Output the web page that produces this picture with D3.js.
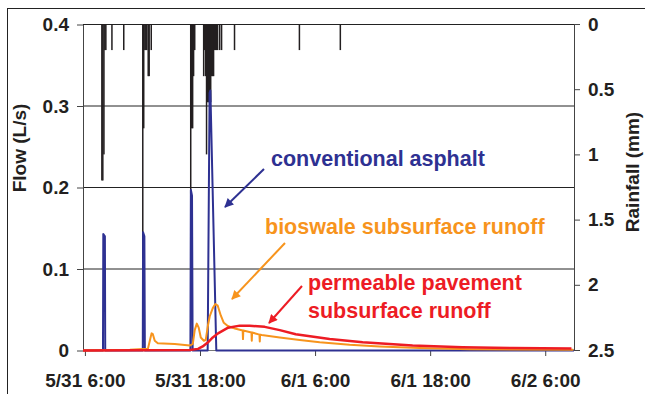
<!DOCTYPE html>
<html>
<head>
<meta charset="utf-8">
<script src="https://cdn.jsdelivr.net/npm/d3@7"></script>
<style>
  body { margin: 0; background: #fff; }
  svg { display: block; font-family: "Liberation Sans", Arial, sans-serif; font-weight: bold; }
</style>
</head>
<body>
<div id="chart"></div>
<script>
// rainfall (mm per interval), hanging from the top
const rainTimes = ['5/31 07:46', '5/31 07:52', '5/31 07:59', '5/31 08:05', '5/31 08:11', '5/31 08:49', '5/31 10:03',
  '5/31 12:02', '5/31 12:08', '5/31 12:15', '5/31 12:21', '5/31 12:27', '5/31 12:36', '5/31 12:42', '5/31 12:55',
  '5/31 17:02', '5/31 17:08', '5/31 17:14', '5/31 17:20', '5/31 17:27',
  '5/31 18:23', '5/31 18:29', '5/31 18:35', '5/31 18:41', '5/31 18:48', '5/31 18:54', '5/31 19:00', '5/31 19:07',
  '5/31 19:13', '5/31 19:19', '5/31 19:25', '5/31 19:32', '5/31 19:38', '5/31 19:44', '5/31 19:50', '5/31 20:03',
  '5/31 20:15', '5/31 21:36', '6/1 04:22', '6/1 08:38'];
const rainMm = [1.2, 1.2, 1.0, 0.2, 0.2, 0.2, 0.2,
  1.8, 0.8, 0.2, 0.2, 0.2, 0.4, 0.4, 0.2,
  1.3, 0.8, 0.8, 0.4, 0.2,
  0.4, 0.2, 0.4, 1.0, 0.6, 0.6, 0.6, 0.6,
  0.4, 0.4, 0.4, 0.2, 0.2, 0.2, 0.2, 0.2,
  0.2, 0.2, 0.2, 0.2];

// conventional asphalt (L/s)
const asphaltTimes = ['5/31 05:48', '5/31 07:53', '5/31 07:55', '5/31 08:05', '5/31 08:07',
  '5/31 12:02', '5/31 12:04', '5/31 12:12', '5/31 12:15',
  '5/31 17:00', '5/31 17:03', '5/31 17:10', '5/31 17:14',
  '5/31 18:48', '5/31 19:00', '5/31 19:05', '5/31 19:42', '6/2 09:00'];
const asphaltFlow = [0, 0, 0.143, 0.14, 0,
  0, 0.145, 0.14, 0,
  0, 0.197, 0.19, 0,
  0, 0.316, 0.319, 0, 0];

// bioswale subsurface runoff (L/s)
const bioswaleTimes = ['5/31 05:48', '5/31 10:41', '5/31 12:34', '5/31 12:46', '5/31 12:57', '5/31 13:05', '5/31 13:17',
  '5/31 13:36', '5/31 15:22', '5/31 16:56', '5/31 17:15', '5/31 17:27', '5/31 17:40', '5/31 17:52', '5/31 18:05',
  '5/31 18:24', '5/31 18:36', '5/31 18:49', '5/31 19:01', '5/31 19:20', '5/31 19:36', '5/31 19:51', '5/31 20:10',
  '5/31 20:29', '5/31 20:54', '5/31 21:38', '5/31 22:27', '5/31 22:29', '5/31 22:31', '5/31 23:22', '5/31 23:24',
  '5/31 23:26', '6/1 00:12', '6/1 00:14', '6/1 00:16', '6/1 00:26', '6/1 02:19', '6/1 04:24', '6/1 06:29',
  '6/1 09:36', '6/1 12:44', '6/1 16:54', '6/1 22:06', '6/2 08:56'];
const bioswaleFlow = [0, 0.001, 0.002, 0.012, 0.021, 0.02, 0.012,
  0.009, 0.008, 0.006, 0.008, 0.025, 0.033, 0.028, 0.016,
  0.012, 0.013, 0.03, 0.042, 0.052, 0.057, 0.055, 0.043,
  0.034, 0.03, 0.027, 0.0245, 0.014, 0.0245, 0.022, 0.012,
  0.022, 0.0195, 0.011, 0.0195, 0.019, 0.016, 0.013, 0.01,
  0.007, 0.005, 0.003, 0.0015, 0.001];

// permeable pavement subsurface runoff (L/s)
const pavementTimes = ['5/31 05:48', '5/31 16:56', '5/31 17:48', '5/31 18:17', '5/31 18:50', '5/31 19:20', '5/31 19:53',
  '5/31 20:56', '5/31 22:09', '5/31 23:11', '6/1 00:45', '6/1 02:19', '6/1 03:59', '6/1 07:31', '6/1 10:58',
  '6/1 16:10', '6/1 21:22', '6/2 02:35', '6/2 08:44'];
const pavementFlow = [0, 0.0005, 0.002, 0.005, 0.01, 0.016, 0.021,
  0.028, 0.0305, 0.0305, 0.029, 0.025, 0.02, 0.014, 0.01,
  0.006, 0.004, 0.003, 0.0025];

const xTickLabels = ['5/31 6:00', '5/31 18:00', '6/1 6:00', '6/1 18:00', '6/2 6:00'];
const flowTicks = [0, 0.1, 0.2, 0.3, 0.4];
const rainTicks = [0, 0.5, 1, 1.5, 2, 2.5];

const parseT = d3.timeParse('%m/%d %H:%M');
const fmtTick = d3.timeFormat('%-m/%-d %-H:%M');
const zip = (ts, vs) => ts.map((t, i) => ({ t: parseT(t), v: vs[i] }));

const W = 645, H = 394;
const mLeft = 83, mRight = 574, mTop = 24, mBottom = 350;

const svg = d3.select('#chart').append('svg').attr('width', W).attr('height', H);

// outer frame
svg.append('rect').attr('x', 7.5).attr('y', 8.5).attr('width', 660).attr('height', 400)
    .attr('fill', 'none').attr('stroke', '#222').attr('stroke-width', 1);

const x = d3.scaleTime().domain([parseT('5/31 05:48'), parseT('6/2 09:00')]).range([mLeft, mRight]);
const y = d3.scaleLinear().domain([0, 0.4]).range([mBottom + 0.5, mTop + 0.5]);
const yRain = d3.scaleLinear().domain([0, 2.5]).range([mTop, mBottom]);

// gridlines
svg.append('g').selectAll('line').data(flowTicks.filter(d => d > 0)).enter().append('line')
    .attr('x1', mLeft).attr('x2', mRight)
    .attr('y1', d => y(d)).attr('y2', d => y(d))
    .attr('stroke', '#222').attr('stroke-width', 1);

// rainfall bars
svg.append('g').selectAll('rect').data(zip(rainTimes, rainMm)).enter().append('rect')
    .attr('x', d => x(d.t) - 0.75)
    .attr('y', mTop)
    .attr('width', 1.5)
    .attr('height', d => yRain(d.v) - mTop)
    .attr('fill', '#231f20');

// axes
const xTickVals = xTickLabels.map(s => parseT(s.replace(/ (\d):/, ' 0$1:')));
svg.append('g').attr('transform', `translate(0,${mBottom})`)
    .call(d3.axisBottom(x).tickValues(xTickVals).tickFormat(fmtTick).tickSize(6).tickSizeOuter(0))
    .call(g => g.select('.domain').attr('stroke', '#777'))
    .call(g => g.selectAll('.tick line').attr('stroke', '#444'))
    .call(g => g.selectAll('.tick text').attr('dy', null).attr('y', 37)
        .style('font-size', '19px').attr('fill', '#231f20'));

svg.append('g').attr('transform', `translate(${mLeft},0)`)
    .call(d3.axisLeft(y).tickValues(flowTicks).tickFormat(d3.format('')).tickSize(6).tickSizeOuter(0))
    .call(g => g.select('.domain').attr('stroke', '#444'))
    .call(g => g.selectAll('.tick line').attr('stroke', '#444'))
    .call(g => g.selectAll('.tick text').attr('x', -14).style('font-size', '19px').attr('fill', '#231f20'));

svg.append('g').attr('transform', `translate(${mRight},0)`)
    .call(d3.axisRight(yRain).tickValues(rainTicks).tickFormat(d3.format('')).tickSize(6).tickSizeOuter(0))
    .call(g => g.select('.domain').attr('stroke', '#444'))
    .call(g => g.selectAll('.tick line').attr('stroke', '#444'))
    .call(g => g.selectAll('.tick text').attr('x', 14).style('font-size', '19px').attr('fill', '#231f20'));

// flow series
const line = d3.line().x(d => x(d.t)).y(d => y(d.v));
const series = [
  { data: zip(asphaltTimes, asphaltFlow), color: '#2e3192', w: 2 },
  { data: zip(bioswaleTimes, bioswaleFlow), color: '#f7941d', w: 2 },
  { data: zip(pavementTimes, pavementFlow), color: '#ed1c24', w: 2.5 }
];
svg.append('g').selectAll('path').data(series).enter().append('path')
    .attr('fill', 'none')
    .attr('stroke', d => d.color)
    .attr('stroke-width', d => d.w)
    .attr('stroke-linejoin', 'round')
    .attr('d', d => line(d.data));

// axis titles
svg.append('text').attr('transform', 'translate(26,148) rotate(-90)')
    .attr('text-anchor', 'middle').style('font-size', '19px').attr('fill', '#231f20').text('Flow (L/s)');
svg.append('text').attr('transform', 'translate(639,172) rotate(-90)')
    .attr('text-anchor', 'middle').style('font-size', '19px').attr('fill', '#231f20').text('Rainfall (mm)');

// annotations with arrows
const defs = svg.append('defs');
const notes = [
  { color: '#2e3192', lines: ['conventional asphalt'], tx: 271, ty: 166, from: [264, 169], to: [225, 207] },
  { color: '#f7941d', lines: ['bioswale subsurface runoff'], tx: 265, ty: 234, from: [285, 243], to: [232, 299] },
  { color: '#ed1c24', lines: ['permeable pavement', 'subsurface runoff'], tx: 308, ty: 290, from: [302, 286], to: [269, 323] }
];
notes.forEach((n, i) => {
  defs.append('marker').attr('id', 'arr' + i)
      .attr('viewBox', '0 0 10 10').attr('refX', 9).attr('refY', 5)
      .attr('markerWidth', 11).attr('markerHeight', 9).attr('markerUnits', 'userSpaceOnUse')
      .attr('orient', 'auto')
      .append('path').attr('d', 'M0,0L10,5L0,10Z').attr('fill', n.color);
  svg.append('line')
      .attr('x1', n.from[0]).attr('y1', n.from[1]).attr('x2', n.to[0]).attr('y2', n.to[1])
      .attr('stroke', n.color).attr('stroke-width', 2).attr('marker-end', `url(#arr${i})`);
  const t = svg.append('text').attr('x', n.tx).attr('y', n.ty)
      .style('font-size', '21.5px').attr('fill', n.color);
  n.lines.forEach((s, j) => t.append('tspan').attr('x', n.tx).attr('dy', j ? 28 : 0).text(s));
});
</script>
</body>
</html>
